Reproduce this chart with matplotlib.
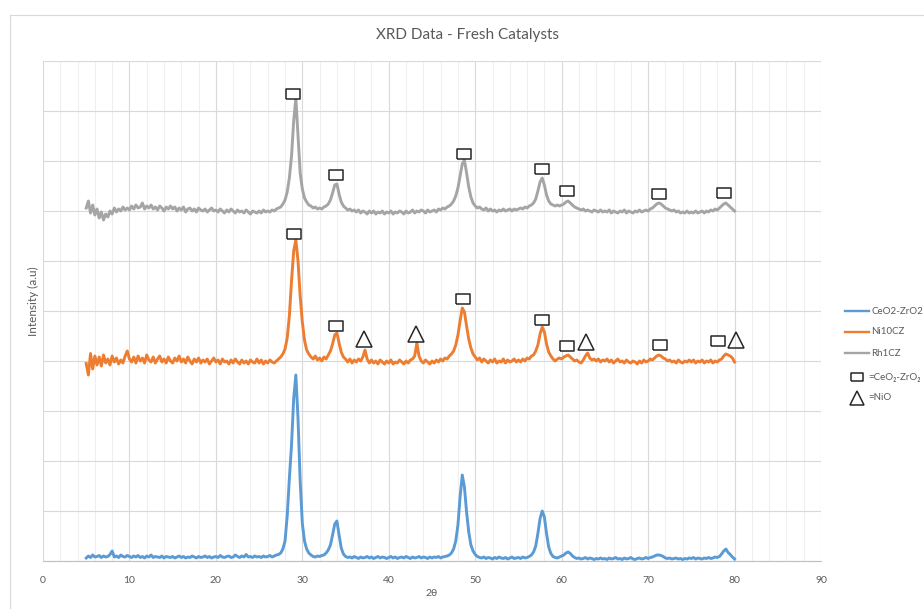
import numpy as np
import matplotlib
matplotlib.use("Agg")
import matplotlib.pyplot as plt
from matplotlib.lines import Line2D
from matplotlib.ticker import MultipleLocator

plt.rcParams['font.family'] = ['Lato', 'DejaVu Sans']

# 2-theta scan, 5 to 80 degrees in 0.25 degree steps
two_theta = np.linspace(5.0, 80.0, 301)

# Intensities (a.u., stacked patterns) - one row per 5 degrees
ceo2_zro2 = [
    6, 10, 7, 12, 8, 9, 11, 7, 10, 8, 9, 13, 20, 8, 10, 7, 12, 9, 8, 11,
    9, 7, 10, 8, 11, 7, 9, 6, 10, 8, 12, 7, 9, 8, 7, 10, 6, 9, 8, 7,
    9, 6, 8, 10, 7, 9, 6, 8, 7, 10, 8, 6, 9, 7, 8, 10, 7, 9, 6, 8,
    9, 7, 11, 8, 7, 9, 10, 7, 8, 12, 9, 7, 10, 8, 13, 8, 9, 7, 10, 8,
    9, 7, 10, 8, 9, 11, 8, 10, 12, 13, 16, 24, 40, 90, 165, 232, 325, 372, 285, 160,
    75, 40, 24, 16, 12, 9, 8, 10, 9, 11, 12, 16, 22, 32, 52, 74, 80, 52, 26, 14,
    9, 7, 8, 6, 9, 7, 5, 8, 6, 7, 9, 6, 8, 5, 7, 9, 6, 8, 7, 5,
    7, 9, 6, 8, 5, 7, 8, 6, 9, 7, 5, 8, 6, 7, 9, 6, 8, 7, 5, 8,
    6, 8, 7, 9, 6, 8, 9, 10, 12, 16, 24, 40, 72, 128, 172, 148, 98, 58, 32, 20,
    13, 9, 7, 6, 8, 5, 7, 6, 4, 7, 5, 8, 6, 5, 7, 4, 6, 8, 5, 6,
    7, 5, 8, 6, 7, 9, 12, 18, 30, 55, 85, 100, 88, 55, 28, 15, 9, 7, 6, 8,
    10, 12, 16, 18, 15, 10, 7, 5, 6, 4, 5, 7, 4, 6, 5, 3, 5, 4, 6, 4,
    5, 3, 6, 4, 5, 7, 4, 5, 3, 6, 4, 5, 7, 4, 3, 5, 6, 4, 5, 7,
    5, 7, 8, 10, 12, 12, 11, 9, 6, 5, 6, 4, 5, 6, 4, 5, 3, 5, 4, 6,
    5, 7, 4, 6, 5, 4, 6, 5, 7, 5, 6, 8, 7, 9, 14, 20, 24, 17, 13, 8,
    4,
]

ni10cz = [
    395, 372, 415, 384, 410, 392, 408, 390, 412, 396, 404, 392, 410, 398, 406, 394, 402, 396, 410, 420,
    404, 398, 408, 396, 410, 400, 406, 396, 412, 402, 398, 408, 396, 404, 410, 398, 404, 396, 408, 400,
    396, 406, 400, 410, 398, 404, 396, 408, 400, 394, 404, 398, 406, 396, 402, 398, 404, 394, 400, 406,
    398, 402, 394, 404, 398, 400, 394, 402, 396, 404, 398, 394, 402, 396, 400, 394, 402, 398, 396, 404,
    396, 402, 394, 400, 396, 402, 398, 396, 400, 404, 408, 414, 424, 446, 490, 560, 620, 642, 600, 530,
    478, 442, 422, 414, 408, 404, 410, 402, 406, 400, 408, 404, 412, 420, 434, 452, 456, 436, 418, 408,
    404, 398, 404, 396, 402, 398, 404, 400, 408, 422, 404, 396, 402, 396, 400, 394, 402, 398, 394, 400,
    396, 402, 394, 398, 396, 402, 398, 394, 400, 396, 402, 404, 410, 436, 410, 400, 396, 402, 398, 394,
    400, 396, 402, 398, 404, 400, 406, 404, 410, 414, 420, 432, 452, 480, 506, 498, 470, 444, 426, 414,
    408, 402, 406, 398, 404, 400, 396, 402, 398, 404, 396, 400, 398, 404, 396, 402, 398, 400, 404, 398,
    402, 398, 404, 400, 406, 404, 410, 412, 420, 432, 454, 468, 458, 434, 418, 410, 404, 400, 404, 406,
    404, 408, 410, 412, 408, 404, 400, 402, 398, 396, 402, 410, 416, 406, 402, 404, 400, 404, 398, 402,
    400, 404, 398, 402, 396, 400, 404, 398, 400, 396, 402, 398, 396, 400, 398, 394, 400, 396, 402, 398,
    400, 404, 402, 406, 410, 412, 410, 406, 404, 400, 402, 398, 400, 396, 402, 398, 396, 400, 398, 402,
    398, 402, 396, 400, 398, 402, 396, 400, 398, 402, 396, 400, 398, 402, 404, 410, 414, 412, 410, 406,
    398,
]

rh1cz = [
    706, 720, 696, 712, 692, 704, 686, 698, 682, 694, 688, 700, 694, 706, 698, 704, 700, 708, 702, 706,
    702, 710, 704, 712, 706, 708, 716, 704, 710, 706, 712, 704, 708, 702, 710, 706, 700, 708, 704, 710,
    704, 708, 700, 706, 702, 708, 698, 704, 706, 700, 704, 698, 706, 702, 700, 704, 698, 702, 706, 700,
    702, 698, 704, 700, 696, 702, 698, 704, 700, 696, 702, 698, 700, 696, 702, 698, 694, 700, 698, 696,
    700, 696, 702, 698, 700, 698, 702, 700, 704, 706, 708, 714, 722, 738, 766, 810, 880, 926, 850, 776,
    744, 726, 718, 712, 710, 706, 708, 704, 706, 704, 708, 710, 714, 722, 736, 752, 754, 734, 718, 710,
    706, 702, 704, 700, 702, 698, 702, 696, 700, 698, 694, 700, 696, 700, 694, 698, 696, 700, 694, 698,
    696, 700, 694, 698, 696, 700, 698, 694, 700, 696, 698, 702, 696, 700, 698, 702, 700, 696, 702, 698,
    700, 702, 698, 704, 702, 706, 704, 708, 710, 714, 720, 730, 746, 770, 794, 802, 776, 748, 728, 716,
    710, 706, 708, 704, 702, 706, 700, 704, 700, 702, 698, 702, 700, 704, 700, 702, 704, 700, 704, 702,
    704, 706, 704, 708, 706, 710, 712, 716, 724, 740, 758, 766, 752, 732, 720, 714, 712, 710, 712, 710,
    712, 714, 718, 720, 716, 712, 708, 706, 704, 702, 704, 700, 702, 700, 698, 702, 700, 698, 702, 698,
    700, 698, 702, 696, 700, 698, 696, 700, 698, 702, 696, 700, 698, 696, 700, 698, 702, 698, 700, 702,
    700, 704, 706, 710, 714, 716, 714, 710, 706, 704, 702, 700, 702, 698, 700, 696, 698, 696, 700, 696,
    698, 696, 700, 696, 698, 700, 696, 700, 698, 702, 700, 704, 702, 706, 710, 714, 716, 712, 708, 704,
    700,
]

series_labels = ["CeO2-ZrO2", "Ni10CZ", "Rh1CZ"]
series_colors = ["#5B9BD5", "#ED7D31", "#A5A5A5"]

# Phase assignments: CeO2-ZrO2 reflections (squares) and NiO reflections (triangles)
ni_ceo2_pos = [29.04, 33.9, 48.59, 57.73, 60.62, 71.38, 78.09]
ni_ceo2_lvl = [655, 471, 524, 482, 431, 433, 440]
ni_nio_pos = [37.14, 43.15, 62.82, 80.17]
ni_nio_lvl = [445, 455, 439, 443]
rh_ceo2_pos = [28.92, 33.9, 48.7, 57.73, 60.62, 71.26, 78.78]
rh_ceo2_lvl = [935, 772, 814, 784, 740, 734, 736]

for arr in (ceo2_zro2, ni10cz, rh1cz):
    assert len(arr) == len(two_theta)

W, H = 924, 609
fig = plt.figure(figsize=(W / 100, H / 100), dpi=100)
fig.patch.set_facecolor("white")

ax = fig.add_axes([43 / W, 48 / H, 778 / W, 500 / H])
ax.set_xlim(0, 90)
ax.set_ylim(0, 1000)
ax.xaxis.set_major_locator(MultipleLocator(10))
ax.xaxis.set_minor_locator(MultipleLocator(2))
ax.yaxis.set_major_locator(MultipleLocator(100))
ax.set_axisbelow(True)
ax.grid(which="minor", axis="x", color="#efefef", lw=0.8)
ax.grid(which="major", color="#d9d9d9", lw=0.8)
ax.tick_params(which="both", length=0)
ax.tick_params(axis="x", labelsize=7.5, labelcolor="#595959", pad=11)
ax.set_yticklabels([])
for side in ("left", "top", "right"):
    ax.spines[side].set_visible(False)
ax.spines["bottom"].set_color("#bfbfbf")
ax.spines["bottom"].set_linewidth(0.8)

for vals, lab, col in zip((ceo2_zro2, ni10cz, rh1cz), series_labels, series_colors):
    ax.plot(two_theta, vals, color=col, lw=2.1, label=lab, solid_joinstyle="round")

rect_marker = [(-1, -0.64), (1, -0.64), (1, 0.64), (-1, 0.64), (-1, -0.64)]
box_style = dict(linestyle="none", marker=rect_marker, markersize=10.2,
                 markerfacecolor="white", markeredgecolor="#262626", markeredgewidth=1.1)
tri_style = dict(linestyle="none", marker="^", markersize=11.5,
                 markerfacecolor="none", markeredgecolor="#262626", markeredgewidth=1.1)

ax.plot(ni_ceo2_pos, ni_ceo2_lvl, **box_style, clip_on=False)
ax.plot(rh_ceo2_pos, rh_ceo2_lvl, **box_style, clip_on=False)
ax.plot(ni_nio_pos, ni_nio_lvl, **tri_style, clip_on=False)

txt = "#595959"
fig.text(467 / W, 1 - 35 / H, "XRD Data - Fresh Catalysts", ha="center", va="center",
         fontsize=11, color=txt)
fig.text(432 / W, 1 - 593 / H, "2θ", ha="center", va="center", fontsize=7.5, color=txt)
fig.text(33 / W, 1 - 301 / H, "Intensity (a.u)", ha="center", va="center", rotation=90,
         fontsize=8.5, color=txt)

# Chart frame
fig.add_artist(Line2D([9.5 / W, 9.5 / W], [0, 1 - 14.5 / H], color="#d9d9d9", lw=0.8))
fig.add_artist(Line2D([9.5 / W, 1], [1 - 14.5 / H, 1 - 14.5 / H], color="#d9d9d9", lw=0.8))

# Legend
for ypx, lab, col in zip((311, 332, 353), series_labels, series_colors):
    fig.add_artist(Line2D([845 / W, 869 / W], [1 - ypx / H, 1 - ypx / H], color=col, lw=1.7))
    fig.text(871 / W, 1 - ypx / H, lab, ha="left", va="center", fontsize=7, color=txt)

fig.add_artist(Line2D([856.5 / W], [1 - 377 / H], marker=rect_marker, markersize=8.8,
                      markerfacecolor="white", markeredgecolor="#262626", markeredgewidth=1.1))
fig.text(868 / W, 1 - 377 / H, "=CeO₂-ZrO₂", ha="left", va="center", fontsize=7, color=txt)
fig.add_artist(Line2D([856.5 / W], [1 - 398 / H], marker="^", markersize=10,
                      markerfacecolor="none", markeredgecolor="#262626", markeredgewidth=1.1))
fig.text(868 / W, 1 - 398 / H, "=NiO", ha="left", va="center", fontsize=7, color=txt)

fig.savefig("out.png", dpi=100)
